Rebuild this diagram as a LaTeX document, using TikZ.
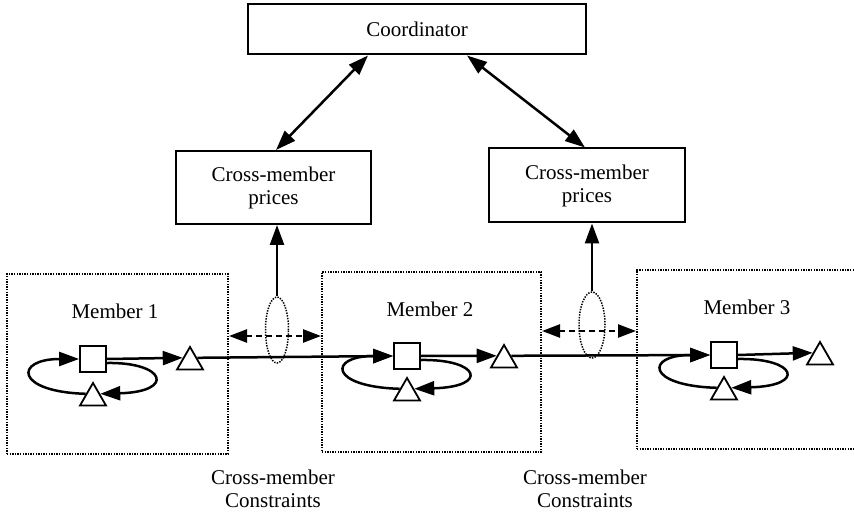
\documentclass[tikz,border=0pt]{standalone}
\usepackage{fontspec}
\setmainfont{Liberation Serif}
\usetikzlibrary{arrows.meta,shapes.geometric}
\begin{document}
\begin{tikzpicture}[x=1pt,y=-1pt,
  every node/.style={font=\fontsize{21}{23}\selectfont, inner sep=0pt},
  box/.style={draw, line width=2pt, align=center, fill=white},
  memberbox/.style={draw, line width=2pt, dash pattern=on 1.4pt off 1.2pt},
  ell/.style={draw, ellipse, line width=1.5pt, dash pattern=on 1.4pt off 1.3pt},
  sqbox/.style={draw, line width=1.8pt, minimum size=26pt, fill=white},
  tribox/.style={draw, regular polygon, regular polygon sides=3, minimum size=30pt, line width=1.8pt, fill=white},
  arr/.style={line width=2.5pt, -{Triangle[length=20pt,width=14pt]}},
  biarr/.style={line width=2.5pt, {Triangle[length=20pt,width=14pt]}-{Triangle[length=20pt,width=14pt]}},
  dasharr/.style={line width=2.5pt, dash pattern=on 6pt off 4pt, {Triangle[length=18pt,width=13pt]}-{Triangle[length=18pt,width=13pt]}}
]
\useasboundingbox (0,0) rectangle (854,513);
\clip (0,0) rectangle (854,513);

% top boxes
\node[box, minimum width=338pt, minimum height=50pt] (coord) at (417,29.5) {Coordinator};
\node[box, minimum width=195pt, minimum height=73pt] (p1) at (273.5,187.5) {Cross-member\\prices};
\node[box, minimum width=196pt, minimum height=74pt] (p2) at (587,185.5) {Cross-member\\prices};

% member boxes
\node[memberbox, minimum width=221pt, minimum height=180pt] (m1) at (117.5,364) {};
\node[memberbox, minimum width=219pt, minimum height=180pt] (m2) at (431.5,362) {};
\node[memberbox, minimum width=240pt, minimum height=179pt] (m3) at (757,359.5) {};

\node (l1) at (115,311) {Member 1};
\node (l2) at (430,309) {Member 2};
\node (l3) at (747,307) {Member 3};

% squares and triangles
\node[sqbox] (s1) at (93,359) {};
\node[sqbox] (s2) at (407,356) {};
\node[sqbox] (s3) at (724,355) {};
\node[tribox] (t1) at (190,362) {};
\node[tribox] (t2) at (504,360) {};
\node[tribox] (t3) at (820,357) {};
\node[tribox] (b1) at (93,398) {};
\node[tribox] (b2) at (407,393) {};
\node[tribox] (b3) at (724,392) {};

% ellipses
\node[ell, minimum width=23pt, minimum height=66pt] (e1) at (277,330) {};
\node[ell, minimum width=26pt, minimum height=66pt] (e2) at (592,325) {};

% coordinator links
\draw[biarr] ([xshift=-49pt]coord.south) -- ([xshift=2.5pt]p1.north);
\draw[biarr] ([xshift=50pt]coord.south) -- ([xshift=-2pt]p2.north);

% ellipse to prices
\draw[arr] (e1.north) -- (e1.north |- p1.south);
\draw[arr] (e2.north) -- (e2.north |- p2.south);

% dashed cross-member arrows
\coordinate (d1) at (277,336);
\coordinate (d2) at (592,331);
\draw[dasharr] (d1 -| m1.east) -- (d1 -| m2.west);
\draw[dasharr] (d2 -| m2.east) -- (d2 -| m3.west);

% square to triangle arrows
\draw[arr] (s1.east) -- (t1.side 1);
\draw[arr] (s2.east) -- (t2.side 1);
\draw[arr] (s3.east) -- (t3.side 1);

% main chain
\draw[arr] (t1.side 3) -- (s2.west);
\draw[arr] (t2.side 3) -- (s3.west);

% loops
\foreach \s/\b in {s1/b1, s2/b2, s3/b3}{
  \draw[arr] ([yshift=-4pt]\s.east) .. controls +(59,-1) and +(75,-2) .. (\b.side 3);
  \draw[arr] (\b.side 1) .. controls +(-71,-2) and +(-65,0) .. (\s.west);
}

% bottom labels
\node[align=center] (c1) at (273,489) {Cross-member\\Constraints};
\node[align=center] (c2) at (585,489) {Cross-member\\Constraints};
\end{tikzpicture}
\end{document}
